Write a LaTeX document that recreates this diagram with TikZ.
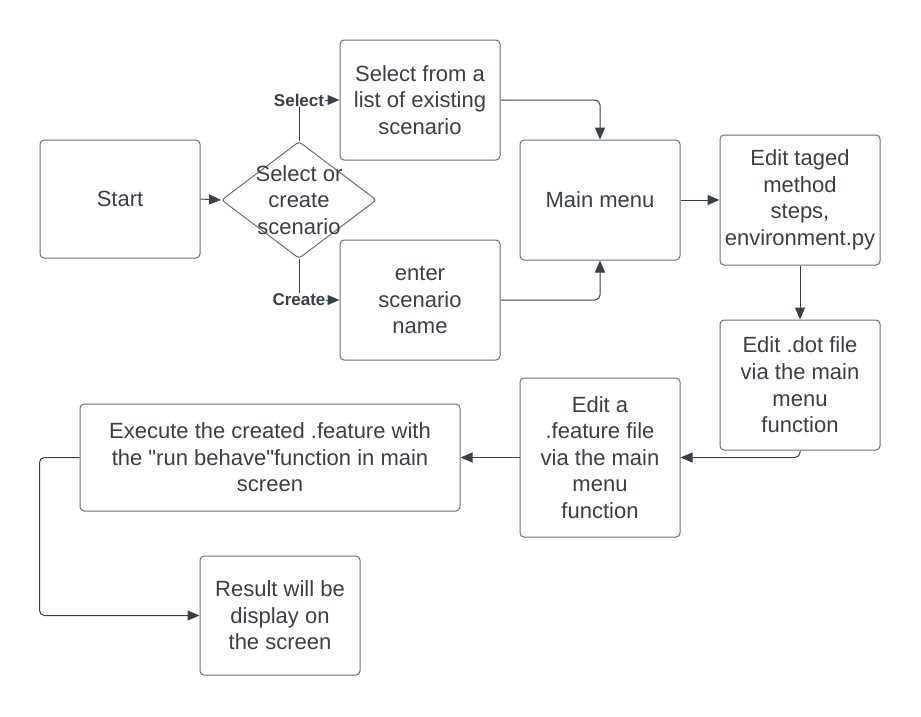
\documentclass[tikz,border=0pt]{standalone}
\usepackage{fontspec}
\setmainfont{Liberation Sans}
\usetikzlibrary{shapes.geometric,arrows.meta}
\definecolor{txtgray}{HTML}{3A3F47}
\definecolor{boxgray}{HTML}{6B6E73}
\definecolor{linegray}{HTML}{3A414A}
\begin{document}
\begin{tikzpicture}[
            x=1pt, y=-1pt,
            box/.style={rectangle, draw=boxgray, line width=1pt, rounded corners=4pt, align=center, text=txtgray, font=\fontsize{22}{26.6}\selectfont, minimum width=160pt, inner sep=0pt},
            decision/.style={diamond, draw=boxgray, line width=1pt, rounded corners=3pt, minimum width=155pt, minimum height=117pt, inner sep=0pt},
            conn/.style={draw=linegray, line width=1pt, rounded corners=5pt, -{Triangle[length=12pt,width=10pt]}},
            lbl/.style={fill=white, inner sep=1pt, text=txtgray, font=\fontsize{17}{20}\selectfont\bfseries},
        ]
            \useasboundingbox (0,0) rectangle (921,716);
            \node[box, minimum height=118pt](start) at (120,199) {Start};
            \node[decision](choose) at (299,200) {};
            \node[align=center, text=txtgray, font=\fontsize{22}{26.6}\selectfont](choosetext) at (choose) {Select or\\create\\scenario};
            \node[box, minimum height=120pt](selbox) at (420,100) {Select from a\\list of existing\\scenario};
            \node[box, minimum height=120pt](enterbox) at (420,300) {enter\\scenario\\name};
            \node[box, minimum height=120pt](mainmenu) at (600,200) {Main menu};
            \node[box, minimum height=130pt](tagbox) at (800,200) {Edit taged\\method\\steps,\\environment.py};
            \node[box, minimum height=130pt](dotbox) at (800,385) {Edit .dot file\\via the main\\menu\\function};
            \node[box, minimum height=159pt](featbox) at (600,457.5) {Edit a\\.feature file\\via the main\\menu\\function};
            \node[box, minimum width=380pt, minimum height=107pt](execbox) at (270,457.5) {Execute the created .feature with\\the \textquotedbl run behave\textquotedbl function in main\\screen};
            \node[box, minimum height=119pt](result) at (280,615.5) {Result will be\\display on\\the screen};
            % connectors
            \draw[conn] (start.east) -- (choose.west);
            \draw[conn, rounded corners=0pt] (choose.north) |- node[lbl, pos=0.5]{Select} (selbox.west);
            \draw[conn, rounded corners=0pt] (choose.south) |- node[lbl, pos=0.5]{Create} (enterbox.west);
            \draw[conn] (selbox.east) -| (mainmenu.north);
            \draw[conn] (enterbox.east) -| (mainmenu.south);
            \draw[conn] (mainmenu.east) -- (tagbox.west);
            \draw[conn] (tagbox.south) -- (dotbox.north);
            \draw[conn] (dotbox.south) |- (featbox.east);
            \draw[conn] (featbox.west) -- (execbox.east);
            \draw[conn] (execbox.west) -- ++(-40,0) |- (result.west);
        \end{tikzpicture}
\end{document}
